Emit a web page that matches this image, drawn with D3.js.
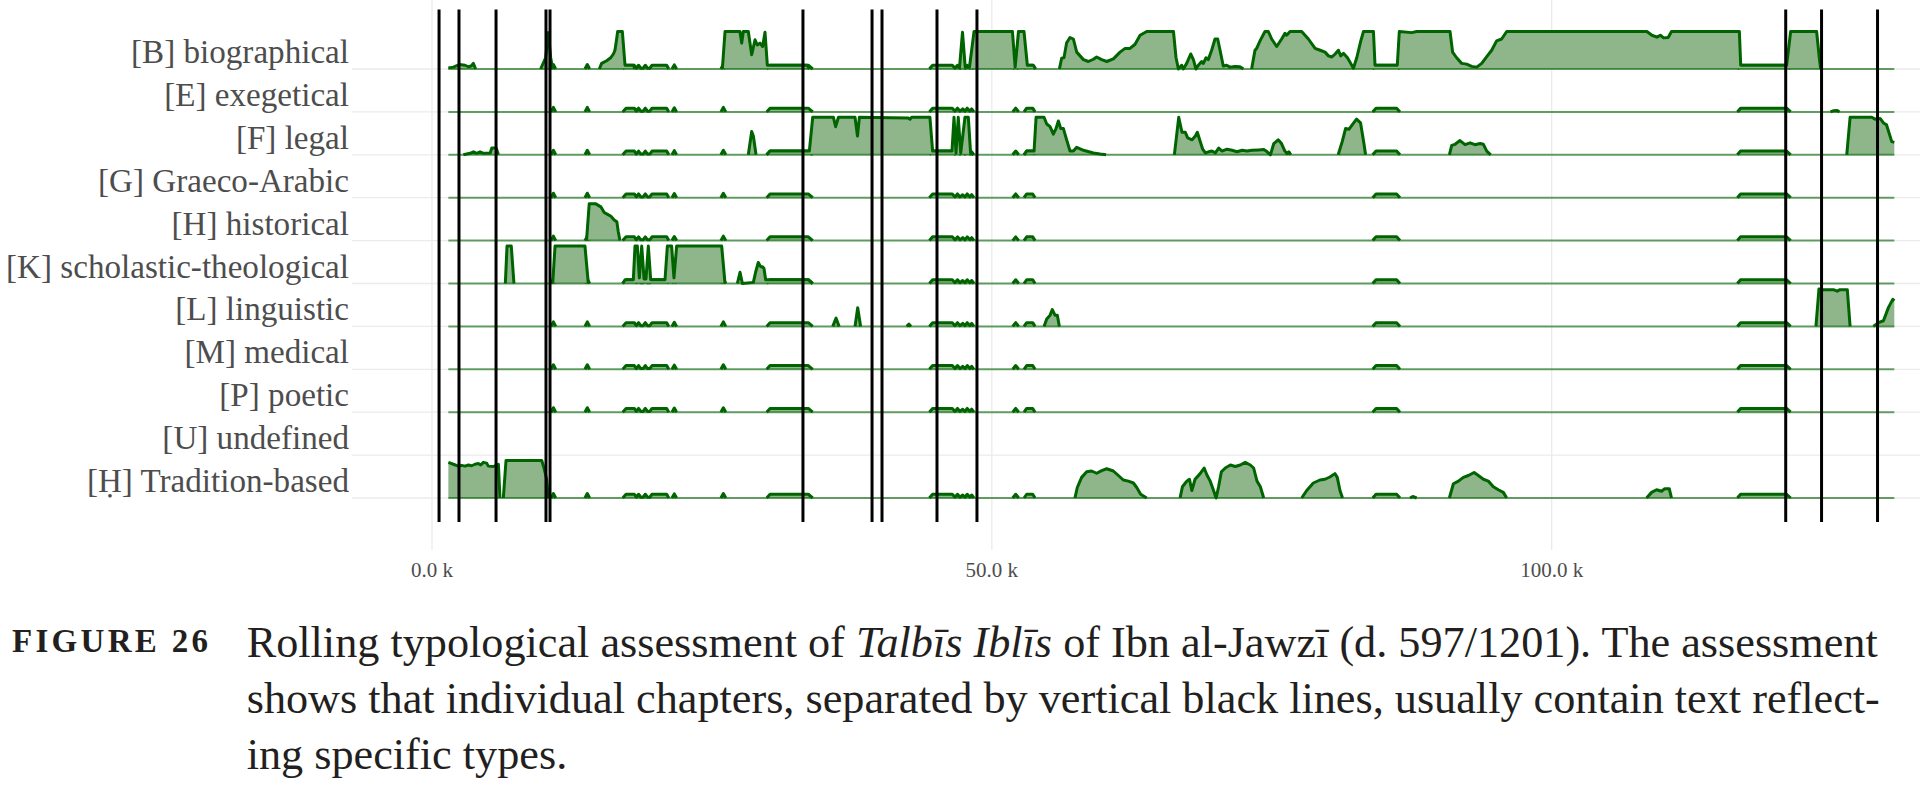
<!DOCTYPE html>
<html><head><meta charset="utf-8">
<script src="https://cdn.jsdelivr.net/npm/d3@7"></script>
<style>html,body{margin:0;padding:0;background:#fff;} svg{display:block;}</style>
</head><body>
<svg id="chart" width="1920" height="788"></svg>
<script>
// ---------- DATA ----------
const categories = ["[B] biographical","[E] exegetical","[F] legal","[G] Graeco-Arabic","[H] historical",
  "[K] scholastic-theological","[L] linguistic","[M] medical","[P] poetic","[U] undefined","[Ḥ] Tradition-based"];
const tickValues = [0, 50, 100];               // thousands of words
const chapterBreaks = [0.63, 2.41, 5.72, 10.18, 10.54, 33.13, 39.30, 40.19, 45.10, 48.67, 120.9, 124.1, 129.1];
const dataExtent = [1.46, 130.6];

// shared low-level signal present in every type (x in k, share 0..1)
const commonBumps = [[1.46,0],[10.63,0],[10.84,0.12],[11.05,0],[13.66,0],[13.87,0.12],[14.08,0],
  [17.03,0],[17.33,0.1],[18.07,0.1],[18.25,0.02],[18.45,0.1],[18.65,0.02],[18.85,0.02],[19.05,0.1],[19.25,0.02],[19.45,0.02],[19.65,0.1],[20.96,0.1],[21.15,0],
  [21.43,0],[21.64,0.11],[21.85,0],[25.8,0],[26.02,0.12],[26.24,0],[29.89,0],[30.19,0.1],[33.61,0.1],[34.0,0],
  [44.42,0],[44.71,0.1],[46.47,0.1],[46.71,0.02],[46.93,0.1],[47.16,0.02],[47.4,0.08],[47.6,0.02],[47.8,0.1],[48.05,0.02],[48.2,0.08],[48.4,0],
  [51.86,0],[52.13,0.1],[52.4,0],[52.87,0],[53.11,0.1],[53.65,0.1],[53.86,0],[84.01,0],[84.31,0.1],[86.15,0.1],[86.45,0],
  [116.58,0],[116.87,0.1],[120.98,0.1],[121.34,0],[130.6,0]];

const seriesB = [[1.46,0.03],[1.91,0.05],[2.44,0.12],[2.95,0.1],[3.25,0.06],[3.5,0.08],[3.69,0.15],[3.9,0],
  [9.7,0],[10.15,0.3],[10.39,0.97],[10.6,0.3],[10.78,0],
  [14.94,0],[15.15,0.15],[15.6,0.22],[15.96,0.3],[16.2,0.4],[16.34,0.5],[16.49,0.8],[16.58,1],[17.0,1],[17.24,0.1],[17.98,0.1],[18.13,0],
  [25.93,0],[26.17,1],[27.5,1],[27.66,0.69],[27.8,1],[28.25,1],[28.55,0.38],[28.85,0.78],[29.05,0.64],[29.29,0.69],[29.53,0.6],[29.74,0.98],[29.95,0.1],[33.5,0.1],[33.7,0],
  [47.1,0],[47.38,0.98],[47.62,0.05],[48.0,0.05],[48.41,1],[51.84,1],[52.08,0.05],[52.38,1],[52.87,1],[53.17,0.1],[53.71,0.1],[53.92,0],
  [56.03,0],[56.24,0.29],[56.44,0.3],[56.68,0.7],[56.98,0.84],[57.28,0.8],[57.58,0.45],[57.88,0.35],[58.18,0.25],[58.62,0.2],[59.07,0.26],[59.36,0.32],[59.81,0.25],[60.26,0.2],[60.85,0.27],[61.45,0.45],[61.9,0.55],[62.34,0.55],[62.79,0.66],[63.24,0.9],[63.83,1],[66.22,1],[66.45,0.3],[66.66,0],[66.95,0.1],[67.1,0],[67.4,0.15],[67.76,0.4],[68.0,0.25],[68.23,0],[68.44,0.1],[68.74,0.2],[68.89,0.15],[69.13,0.3],[69.33,0.25],[69.63,0.5],[69.93,0.8],[70.17,0.8],[70.38,0.5],[70.67,0.08],[70.97,0.1],[71.27,0.05],[71.71,0.07],[72.16,0.06],[72.46,0],
  [73.2,0],[73.5,0.5],[73.65,0.55],[73.95,0.75],[74.39,1],[74.69,1],[74.99,0.8],[75.44,0.6],[75.88,0.8],[76.18,0.95],[76.33,0.9],[76.63,1],[77.67,1],[78.27,0.8],[78.87,0.55],[79.32,0.5],[79.76,0.45],[80.06,0.35],[80.36,0.32],[80.66,0.4],[80.95,0.5],[81.16,0.35],[81.4,0.42],[81.76,0.3],[82.05,0.15],[82.29,0.02],[82.59,0.3],[82.95,0.75],[83.19,1],[84.08,1],[84.22,0.1],[86.21,0.1],[86.39,1],[87.5,0.97],[87.94,1],[90.92,1],[91.15,0.45],[91.51,0.3],[91.96,0.15],[92.41,0.13],[92.85,0.07],[93.3,0.05],[93.75,0.15],[94.25,0.35],[94.64,0.5],[95.08,0.75],[95.53,0.8],[95.98,1],[108.5,1],[108.95,0.9],[109.4,0.85],[109.7,0.9],[110.0,0.83],[110.4,0.84],[110.7,1],[116.76,1],[116.88,0.1],[120.98,0.1],[121.34,1],[123.66,1],[123.9,0.3],[124.02,0]];
const seriesE = [[124.9,0],[125.15,0.03],[125.5,0.04],[125.7,0]];
const seriesF = [[2.8,0],[3.4,0.04],[3.7,0.08],[3.99,0.04],[4.29,0.08],[4.6,0.04],[5.2,0.05],[5.34,0.18],[5.73,0.18],[5.93,0],
  [28.25,0],[28.55,0.62],[28.7,0.5],[28.94,0],
  [29.89,0],[30.19,0.1],[33.7,0.1],[34.0,1],[35.85,1],[36.05,0.75],[36.3,1],[37.78,1],[38.0,0.5],[38.17,1],[42.54,0.98],[42.69,0.95],[42.84,1],[44.47,1],[44.71,0.1],[46.44,0.1],[46.62,1],[46.8,0.05],[47.0,1],[47.22,0.05],[47.6,1],[47.9,1],[48.1,0.05],[48.35,0],
  [52.87,0],[53.11,0.1],[53.77,0.1],[53.95,1],[54.66,1],[54.9,0.82],[55.2,0.75],[55.49,0.55],[55.73,0.7],[55.94,0.9],[56.15,0.7],[56.39,0.7],[56.68,0.4],[56.98,0.1],[57.28,0.1],[57.58,0.2],[58.18,0.12],[59.07,0.05],[59.66,0.02],[60.2,0],
  [66.3,0],[66.69,1],[66.98,0.6],[67.28,0.6],[67.49,0.45],[67.88,0.4],[68.18,0.5],[68.35,0.6],[68.56,0.4],[68.83,0.15],[69.07,0.05],[69.36,0.08],[69.66,0.1],[69.96,0.05],[70.26,0.18],[70.56,0.1],[71.0,0.15],[71.45,0.12],[71.9,0.08],[72.35,0.12],[72.8,0.1],[73.24,0.12],[73.84,0.13],[74.29,0.14],[74.59,0.08],[74.88,0],[75.18,0.3],[75.57,0.4],[75.87,0.3],[76.17,0.1],[76.38,0.03],[76.53,0.08],[76.7,0],
  [80.93,0],[81.29,0.35],[81.59,0.7],[81.89,0.68],[82.18,0.8],[82.57,0.95],[82.93,0.85],[83.23,0.3],[83.38,0],
  [90.86,0],[91.07,0.25],[91.37,0.28],[91.81,0.38],[92.26,0.27],[92.71,0.32],[93.15,0.27],[93.6,0.3],[93.9,0.28],[94.2,0.1],[94.55,0],
  [126.35,0],[126.65,1],[128.58,1],[128.88,0.95],[129.33,0.97],[129.63,0.85],[129.9,0.8],[130.37,0.35],[130.6,0.33]];
const seriesG = [];
const seriesH = [[13.8,0],[14.04,0.98],[14.63,0.98],[15.08,0.9],[15.38,0.75],[15.68,0.7],[15.98,0.65],[16.27,0.55],[16.51,0.5],[16.63,0.25],[16.78,0]];
const seriesK = [[6.55,0],[6.7,1],[7.08,1],[7.32,0],[10.78,0],[10.99,1],[13.66,1],[13.96,0],
  [17.03,0],[17.24,0.1],[17.98,0.1],[18.13,1],[18.34,1],[18.52,0.15],[18.73,1],[18.94,0.12],[19.11,0.12],[19.32,1],[19.53,0.1],[20.81,0.1],[21.02,1],[21.4,1],[21.61,0.15],[21.85,1],[25.87,1],[26.17,0],
  [27.27,0],[27.51,0.3],[27.72,0],[28.7,0.03],[28.9,0.3],[29.14,0.56],[29.35,0.45],[29.5,0.45],[29.65,0.4],[29.8,0.1],[30.19,0.1],[33.61,0.1],[34.0,0]];
const seriesL = [[35.79,0],[36.09,0.22],[36.36,0],[37.78,0],[38.02,0.5],[38.28,0],[42.39,0],[42.6,0.06],[42.78,0],
  [54.66,0],[54.9,0.2],[55.2,0.3],[55.4,0.45],[55.64,0.3],[55.85,0.3],[56.03,0],
  [123.6,0],[123.87,1],[124.1,0.98],[125.16,0.98],[125.5,0.94],[125.75,0.98],[126.4,0.98],[126.65,0],
  [128.73,0],[129.18,0.1],[129.63,0.15],[130.07,0.5],[130.46,0.72],[130.6,0.68]];
const seriesM = [];
const seriesP = [];
const seriesU = null; // no values drawn
const seriesHd = [[1.46,0.95],[1.91,0.9],[2.35,0.85],[2.65,0.87],[2.95,0.85],[3.25,0.88],[3.54,0.86],[3.84,0.9],[4.14,0.92],[4.35,0.88],[4.59,0.95],[4.88,0.93],[5.03,0.85],[5.48,0.84],[5.93,0.9],[6.07,0],[6.37,0],[6.61,1],[9.8,1],[10.0,0.8],[10.24,0.5],[10.39,0],
  [57.42,0],[57.63,0.28],[58.02,0.55],[58.47,0.7],[58.91,0.72],[59.36,0.66],[59.81,0.73],[60.26,0.78],[60.85,0.72],[61.3,0.6],[61.74,0.48],[62.19,0.45],[62.64,0.4],[62.94,0.28],[63.29,0.1],[63.83,0],
  [66.81,0],[67.02,0.3],[67.41,0.45],[67.65,0.5],[67.86,0.2],[68.15,0.5],[68.6,0.65],[68.96,0.8],[69.2,0.62],[69.5,0.45],[69.8,0.2],[70.03,0],[70.25,0.3],[70.5,0.7],[70.85,0.8],[71.3,0.88],[71.74,0.84],[72.19,0.88],[72.63,0.95],[73.08,0.88],[73.38,0.8],[73.68,0.45],[73.98,0.3],[74.28,0],
  [77.67,0],[78.12,0.2],[78.71,0.4],[79.3,0.48],[79.75,0.5],[80.19,0.56],[80.64,0.65],[80.85,0.55],[81.09,0.2],[81.32,0],
  [87.35,0],[87.59,0.04],[87.94,0],
  [90.86,0],[91.22,0.38],[91.67,0.45],[92.11,0.55],[92.56,0.6],[93.07,0.68],[93.45,0.6],[93.9,0.5],[94.34,0.45],[94.79,0.3],[95.23,0.22],[95.68,0.15],[95.98,0],
  [108.47,0],[108.92,0.15],[109.37,0.22],[109.81,0.18],[110.1,0.25],[110.5,0.25],[110.7,0]];
const rowSeries = [seriesB, seriesE, seriesF, seriesG, seriesH, seriesK, seriesL, seriesM, seriesP, seriesU, seriesHd];

const captionLabel = "FIGURE 26";
const captionLines = [
  [["Rolling typological assessment of ", false], ["Talbīs Iblīs", true], [" of Ibn al-Jawzī (d. 597/1201). The assessment", false]],
  [["shows that individual chapters, separated by vertical black lines, usually contain text reflect-", false]],
  [["ing specific types.", false]]
];

// ---------- DRAW ----------
const svg = d3.select("#chart");
const x = d3.scaleLinear().domain([0, 100]).range([432, 1551.7]);
const yBase = d3.scalePoint().domain(categories).range([69, 498]);
const h = d3.scaleLinear().domain([0, 1]).range([0, 37.5]);
const FILL = "#8fb68b", LINE = "#006400";
const serif = "'Liberation Serif', 'DejaVu Serif', serif";

// grid
const grid = svg.append("g");
grid.selectAll("line.v").data(tickValues).join("line")
  .attr("x1", d => x(d)).attr("x2", d => x(d)).attr("y1", 0).attr("y2", 550)
  .attr("stroke", "#ebebeb").attr("stroke-width", 1.3);
grid.selectAll("line.h").data(categories).join("line")
  .attr("x1", 352).attr("x2", 1920).attr("y1", d => yBase(d)).attr("y2", d => yBase(d))
  .attr("stroke", "#ebebeb").attr("stroke-width", 1.3);

function strokeRuns(data) {
  const runs = []; let cur = null;
  for (let i = 0; i < data.length - 1; i++) {
    const a = data[i], b = data[i + 1];
    if (a[1] > 0 || b[1] > 0) { if (!cur) { cur = [a]; runs.push(cur); } cur.push(b); }
    else cur = null;
  }
  return runs;
}

const rows = svg.append("g");
categories.forEach((cat, i) => {
  const s = rowSeries[i];
  if (!s) return;
  const yb = yBase(cat);
  const g = rows.append("g");
  const area = d3.area().x(d => x(d[0])).y0(yb).y1(d => yb - h(d[1]));
  const line = d3.line().x(d => x(d[0])).y(d => yb - h(d[1]));
  [commonBumps, s].forEach(ser => {
    if (!ser.length) return;
    g.append("path").attr("d", area(ser)).attr("fill", FILL);
    strokeRuns(ser).forEach(r => g.append("path").attr("d", line(r))
      .attr("fill", "none").attr("stroke", LINE).attr("stroke-width", 3)
      .attr("stroke-linejoin", "round"));
  });
  g.append("line").attr("x1", x(dataExtent[0])).attr("x2", x(dataExtent[1]))
    .attr("y1", yb).attr("y2", yb).attr("stroke", LINE).attr("stroke-opacity", 0.6).attr("stroke-width", 2);
});

// chapter separators
svg.append("g").selectAll("line").data(chapterBreaks).join("line")
  .attr("x1", d => x(d)).attr("x2", d => x(d)).attr("y1", 9.5).attr("y2", 522)
  .attr("stroke", "#000").attr("stroke-width", 3);

// category labels
const labels = svg.append("g").selectAll("text").data(categories).join("text")
  .attr("x", 349).attr("y", d => yBase(d) - 6).attr("text-anchor", "end")
  .attr("font-family", serif).attr("font-size", 32).attr("fill", "#4d4d4d").text(d => d);
{
  const kNode = labels.filter(d => d.startsWith("[K]")).node();
  const w = kNode.getComputedTextLength();
  labels.attr("font-size", 32 * 343 / w);
}

// x tick labels
svg.append("g").selectAll("text").data(tickValues).join("text")
  .attr("x", d => x(d)).attr("y", 577).attr("text-anchor", "middle")
  .attr("font-family", serif).attr("font-size", 21).attr("fill", "#4d4d4d")
  .text(d => d3.format(".1f")(d) + " k");

// caption
const fig = svg.append("text").attr("x", 12).attr("y", 652).attr("font-family", serif)
  .attr("font-size", 33).attr("font-weight", "bold").attr("fill", "#231f20").text(captionLabel);
{
  const w = fig.node().getComputedTextLength();
  fig.attr("letter-spacing", Math.max(0, (196 - w) / (captionLabel.length - 1)));
}
const capY = [656.7, 712.7, 769.3];
const capTexts = captionLines.map((parts, li) => {
  const t = svg.append("text").attr("x", 246.7).attr("y", capY[li]).attr("font-family", serif)
    .attr("font-size", 40).attr("fill", "#231f20");
  parts.forEach(([s, it]) => t.append("tspan").attr("font-style", it ? "italic" : "normal").text(s));
  return t;
});
{
  const w = capTexts[1].node().getComputedTextLength();
  const fs = 40 * (1880 - 246.7) / w;
  capTexts.forEach(t => t.attr("font-size", fs));
}
</script>
</body></html>
